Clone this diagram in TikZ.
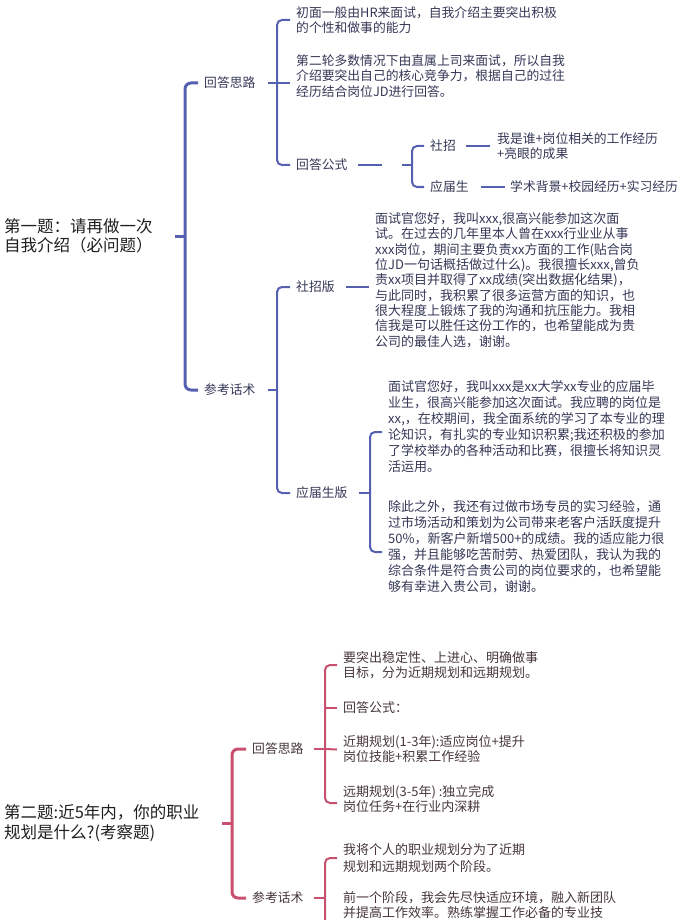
\documentclass[tikz,border=0pt]{standalone}
\usepackage{fontspec}
\setmainfont{Noto Sans CJK SC}
\usetikzlibrary{calc}
\definecolor{lanse}{HTML}{5560B0}
\definecolor{hongse}{HTML}{C8506E}
\definecolor{zilan}{HTML}{343856}
\definecolor{zihong}{HTML}{46363C}

\begin{document}
\begin{tikzpicture}[x=1pt,y=-1pt,
  timu/.style={anchor=west,align=left,inner sep=0pt,text=black!88,font=\fontsize{16.5}{19.5}\selectfont},
  fenzhi/.style={anchor=west,align=left,inner sep=0pt,font=\fontsize{12.8}{15}\selectfont},
  duan/.style={anchor=west,align=left,inner sep=0pt,font=\fontsize{12.8}{15.3}\selectfont},
  zhu/.style={line width=3pt,rounded corners=6pt},
  ci/.style={line width=2pt,rounded corners=5pt}]
\useasboundingbox (0,0) rectangle (690,920);
\clip (0,0) rectangle (690,920);
%\draw[step=10,lightgray,very thin] (0,0) grid (690,920);

% 第一题
\node[timu] (q1) at (4,236) {第一题：请再做一次\\自我介绍（必问题）};
\coordinate (q1j) at (185,236);
\draw[lanse,zhu] ([xshift=22pt]q1.east) -- (q1j);

\node[fenzhi,text=zilan] (a1) at (204,83) {回答思路};
\node[fenzhi,text=zilan] (a2) at (204,390) {参考话术};
\draw[lanse,zhu] ([xshift=-6pt]a1.west) -| (q1j) |- ([xshift=-6pt]a2.west);

\coordinate (a1j) at (277,83);
\draw[lanse,ci] ([xshift=12pt]a1.east) -- (a1j);
\node[duan,text=zilan] (t1) at (296,20) {初面一般由HR来面试，自我介绍主要突出积极\\的个性和做事的能力};
\node[duan,text=zilan] (t2) at (296,76) {第二轮多数情况下由直属上司来面试，所以自我\\介绍要突出自己的核心竞争力，根据自己的过往\\经历结合岗位JD进行回答。};
\node[fenzhi,text=zilan] (a3) at (296,165) {回答公式};
\draw[lanse,ci] ([xshift=-6pt]t1.west) -| (a1j) |- ([xshift=-6pt]a3.west);
\draw[lanse,ci] (a1j) -- ($(a1j -| t2.west)+(-6,0)$);

\coordinate (a3s) at (382,165);
\coordinate (a3j) at (412,165);
\draw[lanse,ci] ([xshift=10pt]a3.east) -- (a3s);
\node[fenzhi,text=zilan] (b1) at (430,146) {社招};
\node[fenzhi,text=zilan] (b2) at (430,187) {应届生};
\draw[lanse,ci] ([xshift=-10pt]a3j) -- (a3j);
\draw[lanse,ci] ([xshift=-6pt]b1.west) -| (a3j) |- ([xshift=-6pt]b2.west);
\node[fenzhi,text=zilan] (c1) at (497,146) {我是谁+岗位相关的工作经历\\+亮眼的成果};
\node[fenzhi,text=zilan] (c2) at (510,187) {学术背景+校园经历+实习经历};
\draw[lanse,ci] ([xshift=10pt]b1.east) -- ([xshift=-7pt]c1.west);
\draw[lanse,ci] ([xshift=12pt]b2.east) -- ([xshift=-5pt]c2.west);

\coordinate (a2j) at (277,390);
\draw[lanse,ci] ([xshift=12pt]a2.east) -- (a2j);
\node[fenzhi,text=zilan] (d1) at (296,287) {社招版};
\node[fenzhi,text=zilan] (d2) at (296,493) {应届生版};
\draw[lanse,ci] ([xshift=-6pt]d1.west) -| (a2j) |- ([xshift=-6pt]d2.west);
\node[duan,text=zilan,font=\fontsize{13}{15.3}\selectfont] (p1) at (375,280) {面试官您好，我叫xxx,很高兴能参加这次面\\试。在过去的几年里本人曾在xxx行业业从事\\xxx岗位，期间主要负责xx方面的工作(贴合岗\\位JD一句话概括做过什么)。我很擅长xxx,曾负\\责xx项目并取得了xx成绩(突出数据化结果)，\\与此同时，我积累了很多运营方面的知识，也\\很大程度上锻炼了我的沟通和抗压能力。我相\\信我是可以胜任这份工作的，也希望能成为贵\\公司的最佳人选，谢谢。};
\draw[lanse,ci] ([xshift=11pt]d1.east) -- ($(d1.east -| p1.west)+(-6,0)$);

\coordinate (d2j) at (370,493);
\draw[lanse,ci] ([xshift=11pt]d2.east) -- (d2j);
\node[duan,text=zilan,font=\fontsize{13}{16}\selectfont] (p2) at (388,427) {面试官您好，我叫xxx是xx大学xx专业的应届毕\\业生，很高兴能参加这次面试。我应聘的岗位是\\xx,，在校期间，我全面系统的学习了本专业的理\\论知识，有扎实的专业知识积累;我还积极的参加\\了学校举办的各种活动和比赛，很擅长将知识灵\\活运用。};
\node[duan,text=zilan,font=\fontsize{13}{16}\selectfont] (p3) at (388,547) {除此之外，我还有过做市场专员的实习经验，通\\过市场活动和策划为公司带来老客户活跃度提升\\50\%，新客户新增500+的成绩。我的适应能力很\\强，并且能够吃苦耐劳、热爱团队，我认为我的\\综合条件是符合贵公司的岗位要求的，也希望能\\够有幸进入贵公司，谢谢。};
\draw[lanse,ci] ($(p2.west)+(-6,5)$) -| (d2j) |- ($(p3.west)+(-6,5)$);

% 第二题
\node[timu] (q2) at (4,823) {第二题:近5年内，你的职业\\规划是什么?(考察题)};
\coordinate (q2j) at (232,823);
\draw[hongse,zhu] ([xshift=22pt]q2.east) -- (q2j);

\node[fenzhi,text=zihong] (e1) at (252,749) {回答思路};
\node[fenzhi,text=zihong] (e2) at (252,898) {参考话术};
\draw[hongse,zhu] ([xshift=-6pt]e1.west) -| (q2j) |- ([xshift=-6pt]e2.west);

\coordinate (e1j) at (325,749);
\draw[hongse,ci] ([xshift=10pt]e1.east) -- (e1j);
\node[duan,text=zihong,font=\fontsize{13}{15}\selectfont] (f1) at (343,665) {要突出稳定性、上进心、明确做事\\目标，分为近期规划和远期规划。};
\node[duan,text=zihong,font=\fontsize{13}{15}\selectfont] (f2) at (343,708) {回答公式：};
\node[duan,text=zihong,font=\fontsize{13}{15}\selectfont] (f3) at (343,749.5) {近期规划(1-3年):适应岗位+提升\\岗位技能+积累工作经验};
\node[duan,text=zihong,font=\fontsize{13}{15}\selectfont] (f4) at (343,799) {远期规划(3-5年) :独立完成\\岗位任务+在行业内深耕};
\draw[hongse,ci] ([xshift=-6pt]f1.west) -| (e1j) |- ($(f4.west)+(-6,4)$);
\draw[hongse,ci] (e1j |- f2.west) -- ([xshift=-6pt]f2.west);
\draw[hongse,ci] (e1j) -- ([xshift=-6pt]f3.west);

\coordinate (e2j) at (325,898);
\coordinate (e2end) at (325,940);
\draw[hongse,ci] ([xshift=10pt]e2.east) -- (e2j);
\node[duan,text=zihong,font=\fontsize{13}{16.5}\selectfont] (g1) at (343,858) {我将个人的职业规划分为了近期\\规划和远期规划两个阶段。};
\node[duan,text=zihong,font=\fontsize{13}{15}\selectfont,anchor=north west] (g2) at (343,891) {前一个阶段，我会先尽快适应环境，融入新团队\\并提高工作效率。熟练掌握工作必备的专业技};
\draw[hongse,ci] ([xshift=-6pt]g1.west) -| (e2end);

\end{tikzpicture}
\end{document}
